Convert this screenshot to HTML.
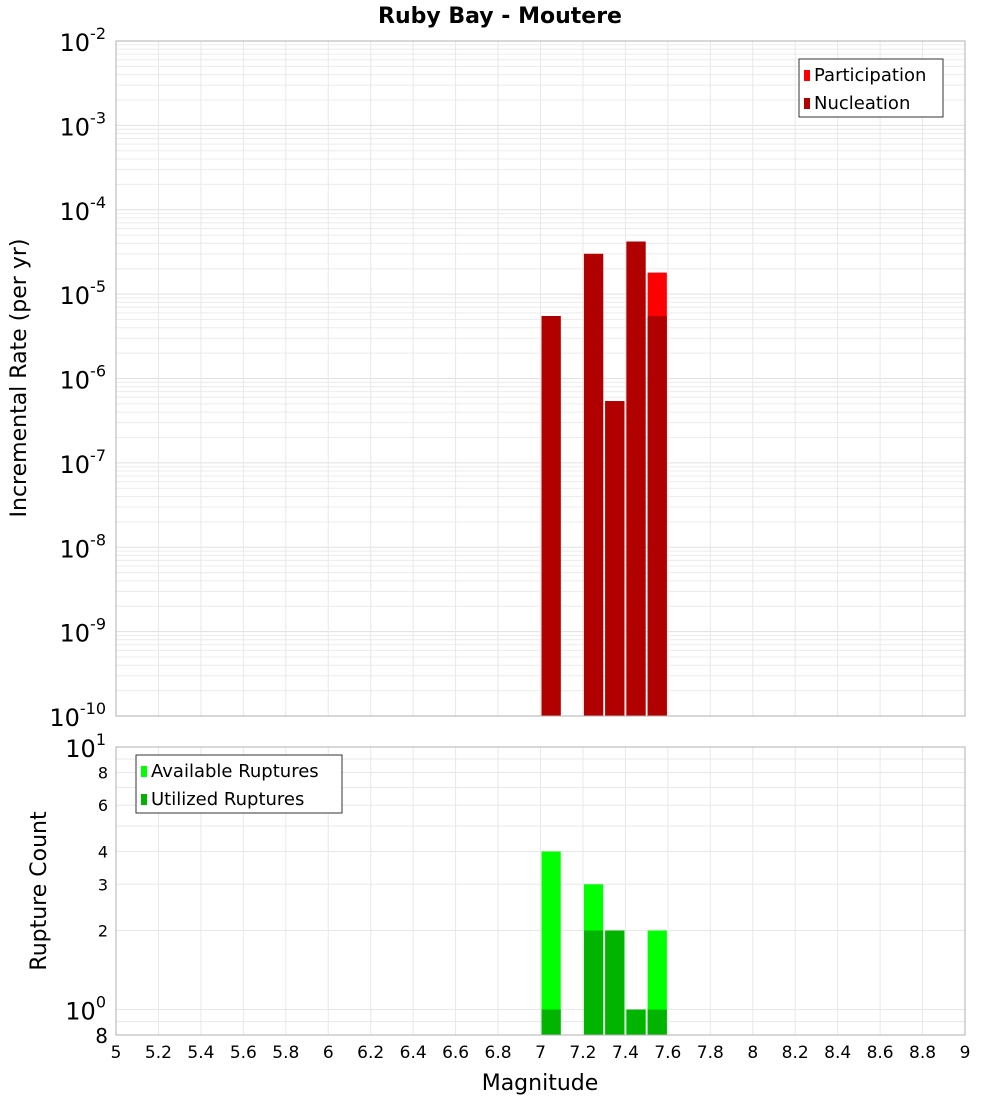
<!DOCTYPE html>
<html><head><meta charset="utf-8"><style>
body{margin:0;background:#fff;font-family:"Liberation Sans","DejaVu Sans",sans-serif}
</style></head><body>
<svg id="c" width="1000" height="1100" xmlns="http://www.w3.org/2000/svg" font-family="DejaVu Sans, Liberation Sans, sans-serif">
<text x="500" y="23" text-anchor="middle" font-size="22" font-weight="bold">Ruby Bay - Moutere</text>
<g id="g1"></g><g id="g2"></g>
<text transform="translate(26,378) rotate(-90)" text-anchor="middle" font-size="22">Incremental Rate (per yr)</text>
<text transform="translate(46,891) rotate(-90)" text-anchor="middle" font-size="22">Rupture Count</text>
<text x="540" y="1090" text-anchor="middle" font-size="22">Magnitude</text>
</svg>
<script>
const mags=[7.05,7.25,7.35,7.45,7.55];
const participation=[5.5e-6,3.0e-5,5.4e-7,4.2e-5,1.8e-5];
const nucleation=[5.5e-6,3.0e-5,5.4e-7,4.2e-5,5.5e-6];
const available=[4,3,2,1,2];
const utilized=[1,2,2,1,1];
const xTicks=[5,5.2,5.4,5.6,5.8,6,6.2,6.4,6.6,6.8,7,7.2,7.4,7.6,7.8,8,8.2,8.4,8.6,8.8,9];
const countTicks=[8,6,4,3,2];
const NS="http://www.w3.org/2000/svg";
const L=116,R=965;
const x=v=>L+(v-5)/4*(R-L);
const T1=41,B1=716,y1=v=>T1+(-2-Math.log10(v))/8*(B1-T1);
const T2=747,B2=1035,lo=Math.log10(0.8),y2=v=>T2+(1-Math.log10(v))/(1-lo)*(B2-T2);
function el(p,t,a,txt){const e=document.createElementNS(NS,t);for(const k in a)e.setAttribute(k,a[k]);if(txt!=null)e.textContent=txt;p.appendChild(e);return e;}
const g1=document.getElementById('g1'),g2=document.getElementById('g2');
// grids
for(let d=-10;d<-2;d++)for(let m=1;m<10;m++){const yy=y1(m*Math.pow(10,d));const l=el(g1,'line',{x1:L,x2:R,y1:yy,y2:yy,stroke:m==1?'#e0e0e0':'#ececec','stroke-width':1});

}
for(let d=-1;d<1;d++)for(let m=1;m<10;m++){const v=m*Math.pow(10,d);if(v<0.8)continue;const yy=y2(v);const l=el(g2,'line',{x1:L,x2:R,y1:yy,y2:yy,stroke:'#e8e8e8','stroke-width':1});

}
xTicks.forEach(t=>{[[T1,B1,g1],[T2,B2,g2]].forEach(([a,b,g])=>{const l=el(g,'line',{x1:x(t),x2:x(t),y1:a,y2:b,stroke:'#e8e8e8'});

});
const tx=el(g2,'text',{x:x(t),y:1058,'text-anchor':'middle','font-size':17},String(t));

});
// bars
const bw=(x(0.1)-x(0))-2;
mags.forEach((m,i)=>{const x0=x(m-0.05)+1;
const p=el(g1,'rect',{x:x0,y:y1(participation[i]),width:bw,height:B1-y1(participation[i]),fill:'#ff0000'});


const n=el(g1,'rect',{x:x0,y:y1(nucleation[i]),width:bw,height:B1-y1(nucleation[i]),fill:'#b00000'});


const a=el(g2,'rect',{x:x0,y:y2(available[i]),width:bw,height:B2-y2(available[i]),fill:'#00ff00'});


const u=el(g2,'rect',{x:x0,y:y2(utilized[i]),width:bw,height:B2-y2(utilized[i]),fill:'#00b400'});

});
// frames
[[T1,B1,g1],[T2,B2,g2]].forEach(([a,b,g])=>{const f=el(g,'rect',{x:L,y:a,width:R-L,height:b-a,fill:'none',stroke:'#b0b0b0'});

});
// y labels top
for(let d=-10;d<=-2;d++){const t=el(g1,'text',{x:106,y:y1(Math.pow(10,d))+10,'text-anchor':'end','font-size':24});


el(t,'tspan',{},'10');el(t,'tspan',{dy:-12,'font-size':16},String(d));}
[[10,'1'],[1,'0']].forEach(([v,e])=>{const t=el(g2,'text',{x:106,y:y2(v)+10,'text-anchor':'end','font-size':24});


el(t,'tspan',{},'10');el(t,'tspan',{dy:-12,'font-size':16},e);});
countTicks.forEach(v=>{const t=el(g2,'text',{x:108,y:y2(v)+6,'text-anchor':'end','font-size':16},String(v));

});
const b8=el(g2,'text',{x:108,y:1043,'text-anchor':'end','font-size':20},'8');


// legends
function legend(g,x0,y0,w,items,name){const lg=el(g,'g',{});


el(lg,'rect',{x:x0,y:y0,width:w,height:58,fill:'#fff',stroke:'#333'});
items.forEach(([c,s],i)=>{el(lg,'rect',{x:x0+5,y:y0+11+i*28,width:6,height:11,fill:c});el(lg,'text',{x:x0+15,y:y0+22+i*28,'font-size':18},s);});}
legend(g1,799,59,144,[['#ff0000','Participation'],['#b00000','Nucleation']],'rate-legend');
legend(g2,136,755,206,[['#00ff00','Available Ruptures'],['#00b400','Utilized Ruptures']],'count-legend');
</script>
</body></html>
